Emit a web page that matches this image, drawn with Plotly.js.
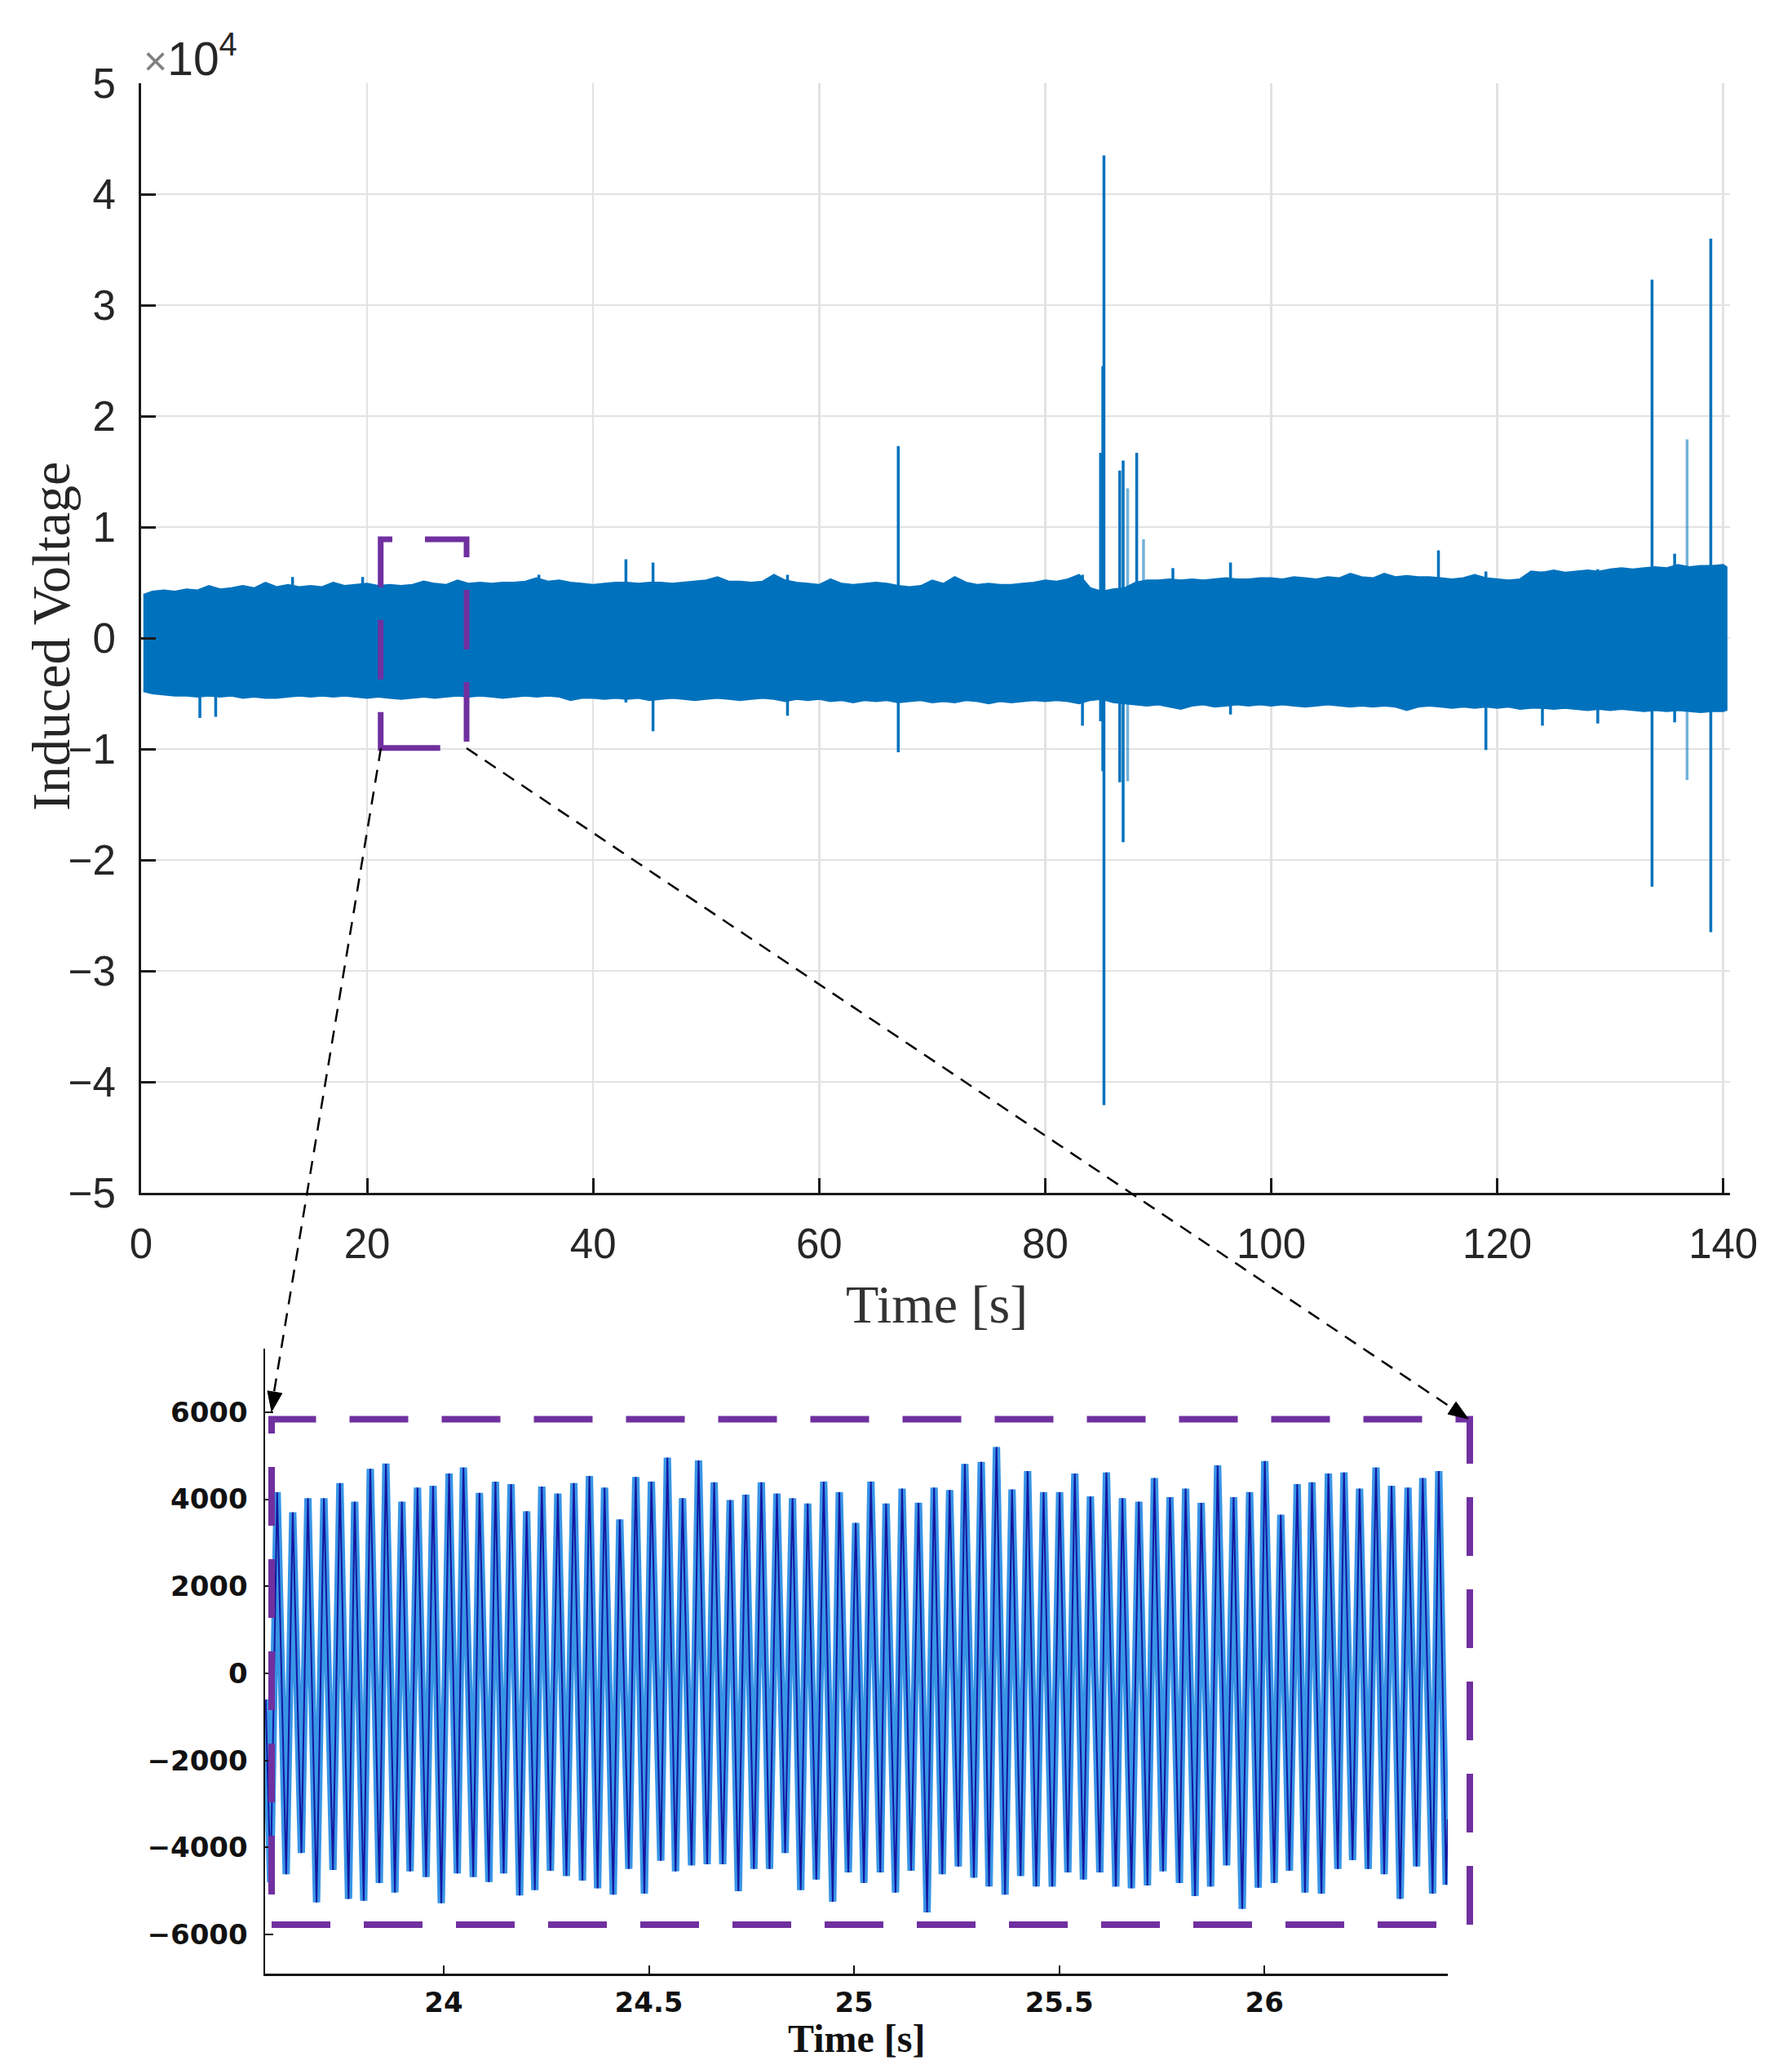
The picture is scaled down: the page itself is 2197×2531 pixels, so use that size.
<!DOCTYPE html>
<html>
<head>
<meta charset="utf-8">
<script src="https://cdn.plot.ly/plotly-3.0.1.min.js"></script>
<style>html,body{margin:0;padding:0;background:#fff;}#chart{width:2197px;height:2531px;}</style>
</head>
<body>
<div id="chart"></div>
<script>
// ---------- Top chart: envelope of the dense signal (Induced Voltage, raw units) ----------
const bandT = [0.2,1,2,3,4,5,6,7,8,9,10,11,12,13,14,15,16,17,18,19,20,21,22,23,24,25,26,27,28,29,30,
  31,32,33,34,35,36,37,38,39,40,41,42,43,44,45,46,47,48,49,50,51,52,53,54,55,56,57,58,59,60,
  61,62,63,64,65,66,67,68,69,70,71,72,73,74,75,76,77,78,79,80,81,82,83,84,85,86,87,88,89,90,
  91,92,93,94,95,96,97,98,99,100,101,102,103,104,105,106,107,108,109,110,111,112,113,114,115,116,117,118,119,120,
  121,122,123,124,125,126,127,128,129,130,131,132,133,134,135,136,137,138,139,140,140.3];
const bandHigh = [3900,4200,4300,4200,4400,4300,4700,4400,4500,4700,4500,5000,4600,4800,4600,4700,4600,5000,4700,4800,4900,
  4700,4800,4700,4800,5100,4900,4800,5200,4900,5000,4900,5000,5000,5100,5400,5100,5200,5000,4900,4800,
  4900,5000,5000,4900,5000,5000,4900,5000,5100,5200,5500,5100,5100,5000,5100,5700,5200,5000,4900,4800,
  5300,4900,4800,4900,5000,4900,4700,4600,4700,5200,4900,5500,5000,4800,4900,4800,4800,4900,5000,5200,
  5100,5300,5700,4500,4200,4400,4500,5000,5200,5200,5300,5200,5300,5200,5300,5400,5300,5300,5400,5400,
  5300,5500,5400,5300,5500,5400,5800,5500,5400,5800,5500,5600,5500,5500,5400,5300,5400,5700,5400,5300,
  5200,5300,6000,5900,6100,5900,6000,6100,6000,6200,6300,6200,6300,6400,6300,6600,6400,6500,6500,6600,6400];
const bandLow = [-4800,-5000,-5100,-5200,-5200,-5300,-5200,-5300,-5200,-5400,-5300,-5400,-5400,-5300,-5200,-5300,-5200,-5300,-5200,-5300,-5400,
  -5300,-5400,-5500,-5400,-5300,-5400,-5300,-5200,-5300,-5200,-5300,-5400,-5300,-5200,-5300,-5200,-5300,-5600,-5400,-5400,
  -5500,-5400,-5500,-5400,-5600,-5500,-5400,-5500,-5600,-5500,-5400,-5500,-5600,-5500,-5400,-5500,-5700,-5500,-5600,-5500,
  -5700,-5600,-5800,-5600,-5700,-5600,-5800,-5700,-5600,-5800,-5700,-5800,-5600,-5700,-5900,-5700,-5800,-5700,-5600,-5700,
  -5600,-5700,-5900,-5600,-5500,-5800,-5900,-6000,-6100,-6000,-6200,-6400,-6100,-6000,-6200,-6100,-6000,-6100,-6000,-6100,
  -6000,-6100,-6200,-6100,-6000,-6100,-6200,-6100,-6200,-6100,-6200,-6500,-6200,-6100,-6200,-6300,-6200,-6300,-6200,-6300,
  -6200,-6400,-6300,-6300,-6400,-6300,-6400,-6500,-6400,-6500,-6400,-6500,-6600,-6500,-6600,-6500,-6600,-6700,-6600,-6600,-6500];

// Isolated spikes (time, max, min)
const spikeT  = [5.2, 6.6, 13.4, 19.6, 35.2, 42.9, 45.3, 57.2, 67.0, 83.3, 84.9, 85.1, 85.2, 86.6, 86.9, 88.1, 91.3, 96.4, 114.8, 119.0, 124.0, 128.9, 133.7, 135.7, 138.9];
const spikeHi = [0, 0, 5500, 5500, 5700, 7100, 6800, 5700, 17300, 5700, 16700, 24500, 43500, 15100, 16000, 16700, 6300, 6800, 7900, 6000, 6000, 6200, 32300, 7600, 36000];
const spikeLo = [-7200, -7100, 0, 0, 0, -5800, -8400, -7000, -10300, -7900, -7500, -12000, -42100, -13000, -18400, -6000, 0, -6900, 0, -10100, -7900, -7700, -22400, -7600, -26500];
// Fainter spikes
const faintT  = [87.3, 88.7, 136.8];
const faintHi = [13500, 8900, 17900];
const faintLo = [-12900, -6000, -12800];

const topXTicks = [0, 20, 40, 60, 80, 100, 120, 140];
const topYTicks = [-50000, -40000, -30000, -20000, -10000, 0, 10000, 20000, 30000, 40000, 50000];
const topYText  = ["\u22125", "\u22124", "\u22123", "\u22122", "\u22121", "0", "1", "2", "3", "4", "5"];

// ---------- Inset: zoomed waveform, 23.57 s – 26.45 s (successive extrema) ----------
const insetT = [23.566,23.578,23.594,23.616,23.632,23.653,23.669,23.690,23.708,23.730,23.747,23.768,23.783,23.805,23.821,23.843,23.859,23.881,23.898,23.918,
  23.936,23.957,23.974,23.994,24.013,24.033,24.048,24.072,24.087,24.110,24.126,24.146,24.164,24.185,24.202,24.222,24.239,24.260,24.278,24.299,
  24.317,24.338,24.355,24.375,24.392,24.413,24.429,24.451,24.468,24.489,24.506,24.529,24.545,24.565,24.582,24.604,24.621,24.642,24.659,24.680,
  24.698,24.718,24.736,24.756,24.774,24.794,24.812,24.832,24.850,24.870,24.887,24.908,24.926,24.948,24.964,24.986,25.004,25.024,25.041,25.064,
  25.078,25.101,25.117,25.139,25.157,25.178,25.195,25.215,25.233,25.254,25.270,25.292,25.310,25.329,25.347,25.368,25.385,25.406,25.423,25.444,
  25.462,25.483,25.501,25.521,25.538,25.559,25.576,25.599,25.615,25.638,25.654,25.676,25.694,25.715,25.732,25.753,25.770,25.793,25.808,25.831,
  25.846,25.869,25.886,25.908,25.925,25.946,25.964,25.985,26.001,26.024,26.040,26.061,26.080,26.099,26.116,26.139,26.156,26.179,26.194,26.215,
  26.232,26.253,26.272,26.292,26.310,26.331,26.350,26.371,26.386,26.410,26.425,26.443,26.447];
const insetV = [-600,-4800,4162,-4612,3699,-4126,4024,-5261,4024,-4515,4372,-5180,3943,-5221,4697,-4815,4818,-5034,3943,-4548,
  4267,-4677,4307,-5277,4591,-4596,4729,-4677,4145,-4791,4405,-4596,4348,-5099,3724,-4977,4291,-4531,4129,-4653,
  4372,-4758,4534,-4937,4267,-5083,3537,-4491,4510,-5058,4405,-4304,4956,-4548,4024,-4410,4891,-4385,4389,-4385,
  3983,-5002,4105,-4491,4389,-4491,4129,-4126,4024,-4977,3902,-4734,4405,-5245,4162,-4572,3456,-4815,4405,-4572,
  3902,-5034,4243,-4531,3918,-5488,4267,-4612,4210,-4434,4810,-4694,4859,-4896,5199,-5083,4226,-4653,4648,-4896,
  4162,-4896,4162,-4572,4591,-4734,4064,-4572,4616,-4896,4024,-4937,3943,-4872,4486,-4548,4048,-4815,4243,-5115,
  3918,-4896,4778,-4410,4048,-5407,4162,-4921,4875,-4815,3643,-4531,4348,-5034,4389,-5058,4591,-4491,4616,-4288,
  4243,-4491,4729,-4612,4307,-5180,4267,-4434,4486,-5058,4648,-4855,-3350];
const insetXTicks = [24, 24.5, 25, 25.5, 26];
const insetYTicks = [-6000, -4000, -2000, 0, 2000, 4000, 6000];

// ---------- Build traces ----------
const W = 2197, H = 2531;
const px = v => v / W;
const py = v => 1 - v / H;

const bandX = bandT.concat(bandT.slice().reverse());
const bandY = bandHigh.concat(bandLow.slice().reverse());

function segs(ts, hi, lo) {
  const x = [], y = [];
  ts.forEach((t, i) => { x.push(t, t, null); y.push(lo[i], hi[i], null); });
  return {x, y};
}
const s1 = segs(spikeT, spikeHi, spikeLo);
const s2 = segs(faintT, faintHi, faintLo);

const blue = '#0072BD';
const traces = [
  {x: bandX, y: bandY, type: 'scatter', mode: 'lines', fill: 'toself', fillcolor: blue,
   line: {color: blue, width: 2}, xaxis: 'x', yaxis: 'y', hoverinfo: 'skip'},
  {x: s2.x, y: s2.y, type: 'scatter', mode: 'lines', line: {color: 'rgba(0,114,189,0.55)', width: 3.5},
   xaxis: 'x', yaxis: 'y', connectgaps: false},
  {x: s1.x, y: s1.y, type: 'scatter', mode: 'lines', line: {color: blue, width: 3.5},
   xaxis: 'x', yaxis: 'y', connectgaps: false},
  {x: insetT, y: insetV, type: 'scatter', mode: 'lines', line: {color: '#3895e6', width: 9},
   xaxis: 'x2', yaxis: 'y2'},
  {x: insetT, y: insetV, type: 'scatter', mode: 'lines', line: {color: '#1517a0', width: 2},
   xaxis: 'x2', yaxis: 'y2'}
];

// arrow heads (triangles) for the two connector lines, in page pixels
function arrowHead(fromX, fromY, tipX, tipY, len, half) {
  const dx = tipX - fromX, dy = tipY - fromY, L = Math.hypot(dx, dy);
  const ux = dx / L, uy = dy / L;
  const bx = tipX - ux * len, by = tipY - uy * len;
  const p1 = [bx - uy * half, by + ux * half], p2 = [bx + uy * half, by - ux * half];
  const f = (p) => px(p[0]) + ',' + py(p[1]);
  return {type: 'path', xref: 'paper', yref: 'paper',
          path: 'M' + f([tipX, tipY]) + ' L' + f(p1) + ' L' + f(p2) + ' Z',
          fillcolor: '#000', line: {color: '#000', width: 1}, layer: 'above'};
}

const axisColor = '#1a1a1a';
const layout = {
  width: W, height: H,
  margin: {l: 0, r: 0, t: 0, b: 0},
  paper_bgcolor: '#ffffff', plot_bgcolor: '#ffffff',
  showlegend: false,
  xaxis: {
    domain: [px(173), px(2121)], range: [0, 140.6], anchor: 'y',
    tickmode: 'array', tickvals: topXTicks, ticktext: topXTicks.map(String),
    ticks: 'inside', ticklen: 18, tickwidth: 3, tickcolor: axisColor,
    showline: true, linecolor: axisColor, linewidth: 3, mirror: false,
    showgrid: true, gridcolor: '#e2e2e2', gridwidth: 2.5, zeroline: false,
    tickfont: {family: 'Liberation Sans, Arial, sans-serif', size: 51, color: '#262626'},
    ticklabelstandoff: 16
  },
  yaxis: {
    domain: [py(1462), py(102)], range: [-50000, 50000], anchor: 'x',
    tickmode: 'array', tickvals: topYTicks, ticktext: topYText,
    ticks: 'inside', ticklen: 18, tickwidth: 3, tickcolor: axisColor,
    showline: true, linecolor: axisColor, linewidth: 3, mirror: false,
    showgrid: true, gridcolor: '#e2e2e2', gridwidth: 2.5, zeroline: false,
    tickfont: {family: 'Liberation Sans, Arial, sans-serif', size: 51, color: '#262626'},
    ticklabelstandoff: 18
  },
  xaxis2: {
    domain: [px(325), px(1775)], range: [23.5646, 26.447], anchor: 'y2',
    tickmode: 'array', tickvals: insetXTicks, ticktext: insetXTicks.map(String),
    ticks: 'inside', ticklen: 10, tickwidth: 2, tickcolor: '#111',
    showline: true, linecolor: '#111', linewidth: 2.5, mirror: false,
    showgrid: false, zeroline: false,
    tickfont: {family: 'DejaVu Sans, sans-serif', size: 34, color: '#111', weight: 'bold'},
    ticklabelstandoff: 4
  },
  yaxis2: {
    domain: [py(2419), py(1653)], range: [-6896, 7459], anchor: 'x2',
    tickmode: 'array', tickvals: insetYTicks, ticktext: insetYTicks.map(v => v < 0 ? '\u2212' + Math.abs(v) : String(v)),
    ticks: 'inside', ticklen: 10, tickwidth: 2, tickcolor: '#111',
    showline: true, linecolor: '#111', linewidth: 2.5, mirror: false,
    showgrid: false, zeroline: false,
    tickfont: {family: 'DejaVu Sans, sans-serif', size: 34, color: '#111', weight: 'bold'},
    ticklabelstandoff: 12
  },
  shapes: [
    // purple dashed selection box on the main chart
    {type: 'rect', xref: 'x', yref: 'y', x0: 21.2, x1: 28.8, y0: -9900, y1: 8900,
     line: {color: '#7030A0', width: 7, dash: '73px,40px'}, fillcolor: 'rgba(0,0,0,0)', layer: 'above'},
    // purple dashed frame around the zoomed waveform
    {type: 'rect', xref: 'paper', yref: 'paper', x0: px(333), x1: px(1802), y0: py(2359), y1: py(1739.5),
     line: {color: '#7030A0', width: 8, dash: '72px,41px'}, fillcolor: 'rgba(0,0,0,0)', layer: 'above'},
    // dashed black connector lines
    {type: 'line', xref: 'paper', yref: 'paper', x0: px(467), y0: py(917), x1: px(335), y1: py(1712),
     line: {color: '#000', width: 2.5, dash: '16px,11px'}, layer: 'above'},
    {type: 'line', xref: 'paper', yref: 'paper', x0: px(572), y0: py(917), x1: px(1782), y1: py(1727),
     line: {color: '#000', width: 2.5, dash: '16px,11px'}, layer: 'above'},
    arrowHead(467, 917, 333, 1730, 24, 9),
    arrowHead(572, 917, 1800, 1739, 24, 9)
  ],
  annotations: [
    {xref: 'paper', yref: 'paper', x: px(174), y: py(68), xanchor: 'left', yanchor: 'middle',
     text: '<span style="color:#808080;font-size:50px">\u00d7</span>10<sup>4</sup>', showarrow: false,
     font: {family: 'Liberation Sans, Arial, sans-serif', size: 57, color: '#262626'}},
    {xref: 'paper', yref: 'paper', x: px(62), y: py(780), xanchor: 'center', yanchor: 'middle',
     text: 'Induced Voltage', textangle: -90, showarrow: false,
     font: {family: 'Liberation Serif, Times New Roman, serif', size: 66, color: '#262626'}},
    {xref: 'paper', yref: 'paper', x: px(1148), y: py(1598), xanchor: 'center', yanchor: 'middle',
     text: 'Time [s]', showarrow: false,
     font: {family: 'Liberation Serif, Times New Roman, serif', size: 66, color: '#333333'}},
    {xref: 'paper', yref: 'paper', x: px(1050), y: py(2498), xanchor: 'center', yanchor: 'middle',
     text: '<b>Time [s]</b>', showarrow: false,
     font: {family: 'Liberation Serif, Times New Roman, serif', size: 48, color: '#111'}}
  ]
};

Plotly.newPlot('chart', traces, layout, {displayModeBar: false, staticPlot: true});
</script>
</body>
</html>
